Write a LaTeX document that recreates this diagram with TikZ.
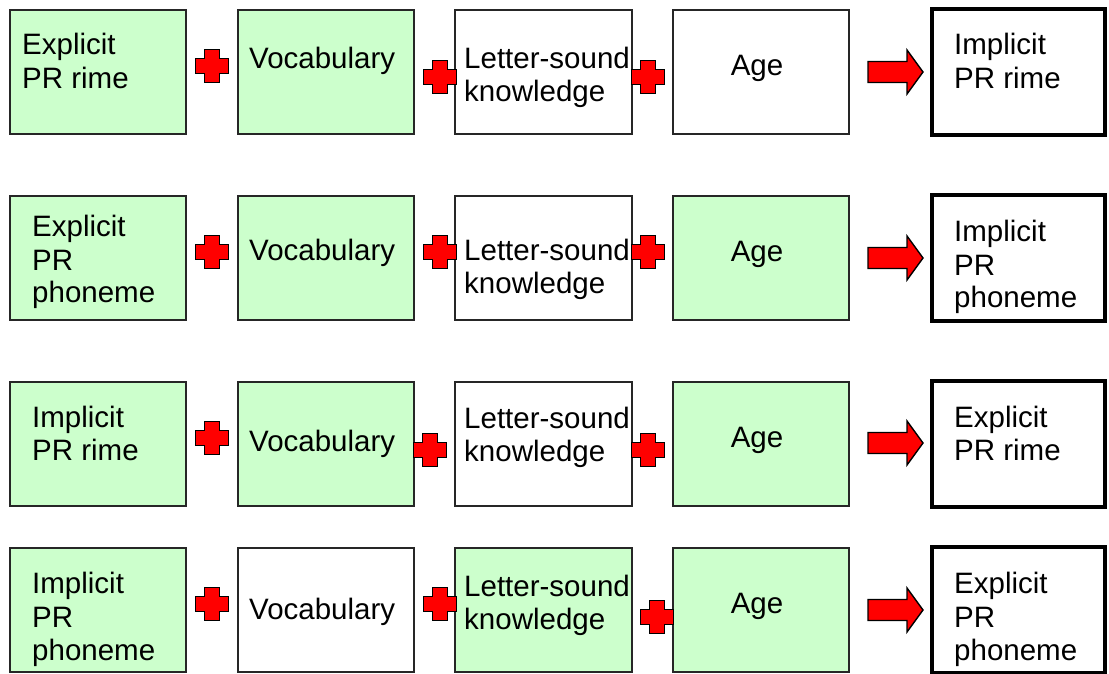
\documentclass[tikz,border=0pt]{standalone}
\usepackage{fontspec}
\setmainfont{Liberation Sans}
\definecolor{boxgreen}{HTML}{CCFFCC}
\definecolor{markred}{HTML}{FF0000}
\begin{document}
\begin{tikzpicture}[x=1pt,y=-1pt,
  box/.style={draw=black!85, line width=1.4pt, inner sep=0pt,
              minimum width=176pt, minimum height=124pt},
  green/.style={box, fill=boxgreen},
  plain/.style={box, fill=white},
  outcome/.style={draw=black, line width=4pt, fill=white, inner sep=0pt,
                  minimum width=173pt, minimum height=126pt},
  txt/.style={anchor=base west, inner sep=0pt, font=\fontsize{29.5}{33}\selectfont},
  ctxt/.style={anchor=base, inner sep=0pt, font=\fontsize{29.5}{33}\selectfont},
  markstyle/.style={fill=markred, draw=black, line width=1.4pt, line join=miter},
  plusmark/.pic={
    \path[markstyle] (-7.5,-16.5) -- (7.5,-16.5) -- (7.5,-7.5) -- (16.5,-7.5)
      -- (16.5,7.5) -- (7.5,7.5) -- (7.5,16.5) -- (-7.5,16.5) -- (-7.5,7.5)
      -- (-16.5,7.5) -- (-16.5,-7.5) -- (-7.5,-7.5) -- cycle;
  },
  rightmark/.pic={
    \path[markstyle] (0,-10.5) -- (39,-10.5) -- (39,-22) -- (55,0) -- (39,22)
      -- (39,10.5) -- (0,10.5) -- cycle;
  }]
\useasboundingbox (0,0) rectangle (1109,673);

% ---------- row 1 ----------
\node[green]   (r1a) at (98,72)    {};
\node[green]   (r1b) at (326,72)   {};
\node[plain, minimum width=177pt] (r1c) at (543.5,72) {};
\node[plain]   (r1d) at (761,72)   {};
\node[outcome] (r1e) at (1018.5,72) {};
\node[txt] (t1a1) at (22,54)  {Explicit};
\node[txt] (t1a2) at (22,88)  {PR rime};
\node[txt] (t1b)  at (249,68) {Vocabulary};
\node[txt] (t1c1) at (464,68) {Letter-sound};
\node[txt] (t1c2) at (464,101) {knowledge};
\node[ctxt] (t1d) at (757,75) {Age};
\node[txt] (t1e1) at (954,54) {Implicit};
\node[txt] (t1e2) at (954,88) {PR rime};
\pic (p1a) at (212,66) {plusmark};
\pic (p1b) at (440,77) {plusmark};
\pic (p1c) at (648,77) {plusmark};
\pic (a1)  at (868,72) {rightmark};

% ---------- row 2 ----------
\node[green]   (r2a) at (98,258)   {};
\node[green]   (r2b) at (326,258)  {};
\node[plain, minimum width=177pt] (r2c) at (543.5,258) {};
\node[green]   (r2d) at (761,258)  {};
\node[outcome] (r2e) at (1018.5,258) {};
\node[txt] (t2a1) at (32,236) {Explicit};
\node[txt] (t2a2) at (32,270) {PR};
\node[txt] (t2a3) at (32,302) {phoneme};
\node[txt] (t2b)  at (249,260) {Vocabulary};
\node[txt] (t2c1) at (464,260) {Letter-sound};
\node[txt] (t2c2) at (464,293) {knowledge};
\node[ctxt] (t2d) at (757,261) {Age};
\node[txt] (t2e1) at (954,241) {Implicit};
\node[txt] (t2e2) at (954,275) {PR};
\node[txt] (t2e3) at (954,307) {phoneme};
\pic (p2a) at (212,252) {plusmark};
\pic (p2b) at (440,252) {plusmark};
\pic (p2c) at (648,252) {plusmark};
\pic (a2)  at (868,258) {rightmark};

% ---------- row 3 ----------
\node[green]   (r3a) at (98,444)   {};
\node[green]   (r3b) at (326,444)  {};
\node[plain, minimum width=177pt] (r3c) at (543.5,444) {};
\node[green]   (r3d) at (761,444)  {};
\node[outcome] (r3e) at (1018.5,444) {};
\node[txt] (t3a1) at (32,427) {Implicit};
\node[txt] (t3a2) at (32,460) {PR rime};
\node[txt] (t3b)  at (249,451) {Vocabulary};
\node[txt] (t3c1) at (464,428) {Letter-sound};
\node[txt] (t3c2) at (464,461) {knowledge};
\node[ctxt] (t3d) at (757,447) {Age};
\node[txt] (t3e1) at (954,427) {Explicit};
\node[txt] (t3e2) at (954,460) {PR rime};
\pic (p3a) at (212,438) {plusmark};
\pic (p3b) at (430,450) {plusmark};
\pic (p3c) at (648,450) {plusmark};
\pic (a3)  at (868,443) {rightmark};

% ---------- row 4 ----------
\node[green]   (r4a) at (98,610)   {};
\node[plain]   (r4b) at (326,610)  {};
\node[green, minimum width=177pt] (r4c) at (543.5,610) {};
\node[green]   (r4d) at (761,610)  {};
\node[outcome] (r4e) at (1018.5,610) {};
\node[txt] (t4a1) at (32,593) {Implicit};
\node[txt] (t4a2) at (32,627) {PR};
\node[txt] (t4a3) at (32,660) {phoneme};
\node[txt] (t4b)  at (249,619) {Vocabulary};
\node[txt] (t4c1) at (464,596) {Letter-sound};
\node[txt] (t4c2) at (464,629) {knowledge};
\node[ctxt] (t4d) at (757,613) {Age};
\node[txt] (t4e1) at (954,593) {Explicit};
\node[txt] (t4e2) at (954,627) {PR};
\node[txt] (t4e3) at (954,660) {phoneme};
\pic (p4a) at (212,604) {plusmark};
\pic (p4b) at (440,604) {plusmark};
\pic (p4c) at (657,617) {plusmark};
\pic (a4)  at (868,610) {rightmark};
\end{tikzpicture}
\end{document}
